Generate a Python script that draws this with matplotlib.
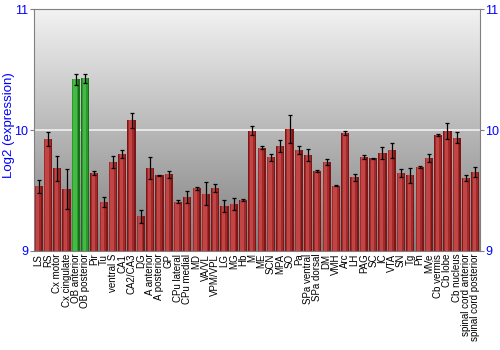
import numpy as np
import matplotlib
matplotlib.use('Agg')
import matplotlib.pyplot as plt

plt.rcParams['font.family'] = ['Liberation Sans', 'DejaVu Sans']

# Regions, mean log2 expression and error
regions = ['LS', 'RS', 'Cx motor', 'Cx cingulate', 'OB anterior', 'OB posterior',
           'Pir', 'Tu', 'ventral S', 'CA1', 'CA2/CA3', 'DG', 'A anterior',
           'A posterior', 'GP', 'CPu lateral', 'CPu medial', 'MD', 'VA/VL',
           'VPM/VPL', 'LG', 'MG', 'Hb', 'M', 'ME', 'SCN', 'MPA', 'SO', 'Pa',
           'SPa ventral', 'SPa dorsal', 'DM', 'VMH', 'Arc', 'LH', 'PAG', 'SC',
           'IC', 'VTA', 'SN', 'Tg', 'Pn', 'MVe', 'Cb vermis', 'Cb lobe',
           'Cb nucleus', 'spinal cord anterior', 'spinal cord posterior']
values = [9.533, 9.925, 9.682, 9.511, 10.42, 10.428,
          9.641, 9.406, 9.735, 9.801, 10.08, 9.285, 9.688,
          9.627, 9.633, 9.406, 9.445, 9.519, 9.475,
          9.519, 9.37, 9.39, 9.42, 9.994, 9.854, 9.773, 9.865, 10.006, 9.834,
          9.793, 9.663, 9.735, 9.539, 9.978, 9.608, 9.776, 9.765,
          9.809, 9.831, 9.644, 9.624, 9.696, 9.768, 9.959, 9.994,
          9.936, 9.602, 9.652]
errors = [0.052, 0.058, 0.10, 0.166, 0.044, 0.039,
          0.017, 0.043, 0.052, 0.036, 0.064, 0.05, 0.09,
          0.005, 0.03, 0.013, 0.047, 0.011, 0.097,
          0.035, 0.052, 0.048, 0.007, 0.037, 0.011, 0.026, 0.05, 0.116, 0.03,
          0.052, 0.006, 0.025, 0.005, 0.017, 0.03, 0.017, 0.007,
          0.047, 0.061, 0.033, 0.066, 0.008, 0.03, 0.006, 0.066,
          0.046, 0.025, 0.044]
highlight = ['OB anterior', 'OB posterior']

fig = plt.figure(figsize=(5, 3.5), dpi=100)
ax = fig.add_axes([0.068, 0.283, 0.892, 0.691])

x = np.arange(len(regions))
ymin, ymax = 9, 11
heights = np.array(values) - ymin
is_hi = np.array([r in highlight for r in regions])

# gray gradient background, light at top
grad = np.linspace(0, 1, 256).reshape(-1, 1)
bg = matplotlib.colors.LinearSegmentedColormap.from_list('bg', ['#f2f2f2', '#7e7e7e'])
ax.imshow(grad, aspect='auto', cmap=bg, origin='upper',
          extent=(-0.5, len(regions) - 0.5, ymin, ymax), zorder=0)
ax.axhline(10, color='#f0f0f0', lw=1.2, zorder=1)

# shaded bars: dark body, lighter stripe left of centre
red_shades = [('#7e1616', 0.88, 0.0), ('#a32a2a', 0.66, -0.05), ('#c24545', 0.36, -0.1)]
green_shades = [('#1b6e1b', 0.88, 0.0), ('#2a9a2a', 0.66, -0.05), ('#45b845', 0.36, -0.1)]
for (rc, w, dx), (gc, _, _) in zip(red_shades, green_shades):
    cols = [gc if h else rc for h in is_hi]
    ax.bar(x + dx, heights, bottom=ymin, width=w, color=cols, linewidth=0, zorder=2)
ax.errorbar(x, values, yerr=errors, fmt='none', ecolor='black', elinewidth=0.9,
            capsize=1.5, capthick=0.9, zorder=3)

ax.set_xlim(-0.5, len(regions) - 0.5)
ax.set_ylim(ymin, ymax)
ax.set_yticks([9, 10, 11])
ax.set_xticks(x)
ax.set_xticklabels(regions, rotation=90, fontsize=7)
ax.tick_params(axis='x', length=0, pad=2)
ax.tick_params(axis='y', colors='#808080', labelcolor='blue', labelsize=9,
               right=True, labelright=True, direction='out', length=3, pad=1)
ax.set_ylabel('Log2 (expression)', color='blue', fontsize=9.5)
ax.yaxis.set_label_coords(-0.042, 0.52)
for s in ax.spines.values():
    s.set_color('#808080')

fig.savefig('out.png', dpi=100)
